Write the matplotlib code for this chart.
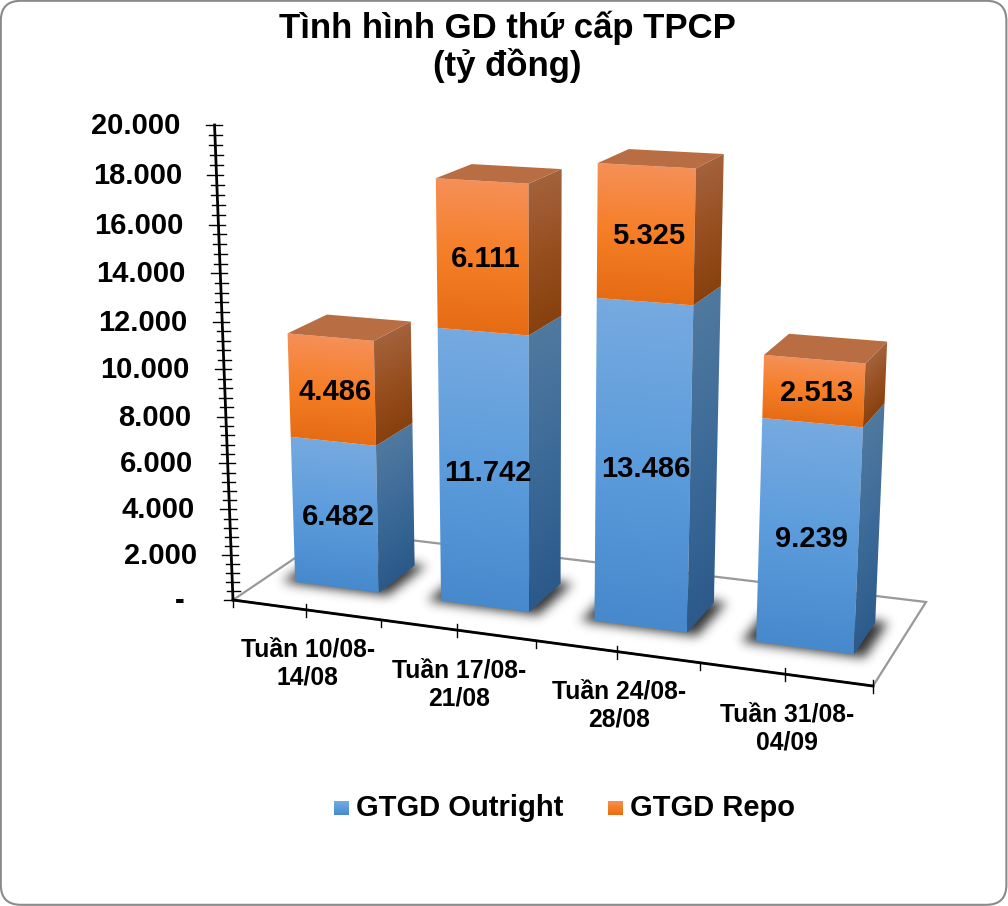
import matplotlib
matplotlib.use("Agg")
import matplotlib.pyplot as plt
import numpy as np
from matplotlib.patches import FancyBboxPatch, Polygon
from matplotlib.path import Path

categories = ["Tuần 10/08-\n14/08", "Tuần 17/08-\n21/08", "Tuần 24/08-\n28/08", "Tuần 31/08-\n04/09"]
outright = [6.482, 11.742, 13.486, 9.239]
repo = [4.486, 6.111, 5.325, 2.513]
outright_labels = ["6.482", "11.742", "13.486", "9.239"]
repo_labels = ["4.486", "6.111", "5.325", "2.513"]
y_ticks = [0, 2, 4, 6, 8, 10, 12, 14, 16, 18, 20]
y_tick_labels = ["-", "2.000", "4.000", "6.000", "8.000", "10.000", "12.000", "14.000", "16.000", "18.000", "20.000"]

FONT = "Liberation Sans"
BLUE_FRONT = ["#76aae0", "#5c9cdc", "#4689cc"]
BLUE_SIDE = ["#50799f", "#3c6a98", "#2b5a8a"]
ORANGE_FRONT = ["#f69058", "#f57e26", "#e66c14"]
ORANGE_SIDE = ["#a3623c", "#984f20", "#87400e"]
TOP_COLOR = "#b86d43"

# camera: floor corners in pixels, then vanishing point of the vertical edges
floor = [(233, 600), (873, 686), (926, 602), (335, 531)]
vanish = (540, 8500)
axis_top = 125.0
n_cat = 4


def make_camera():
    (x0, y0), (x1, y1), (x2, y2), (x3, y3) = floor
    dx1, dx2, sx = x1 - x2, x3 - x2, x0 - x1 + x2 - x3
    dy1, dy2, sy = y1 - y2, y3 - y2, y0 - y1 + y2 - y3
    det = dx1 * dy2 - dx2 * dy1
    g = (sx * dy2 - dx2 * sy) / det
    h = (dx1 * sy - sx * dy1) / det
    c = (y0 - axis_top) / (20 * (axis_top - vanish[1]))
    return np.array([
        [(x1 - x0 + g * x1) / n_cat, c * vanish[0], x3 - x0 + h * x3, x0],
        [(y1 - y0 + g * y1) / n_cat, c * vanish[1], y3 - y0 + h * y3, y0],
        [g / n_cat, c, h, 1.0],
    ])


CAM = make_camera()


def project(x, y, z):
    p = CAM @ np.array([x, y, z, 1.0])
    return p[0] / p[2], p[1] / p[2]


def ramp(stops, t):
    rgb = np.array([matplotlib.colors.to_rgb(s) for s in stops])
    pos = np.linspace(0, 1, len(stops))
    return np.dstack([np.interp(t, pos, rgb[:, k]) for k in range(3)])


def gradient_face(ax, quad, stops, zorder):
    # quad = top-left, top-right, bottom-right, bottom-left
    q = np.array(quad)
    x0, x1 = int(q[:, 0].min()) - 1, int(q[:, 0].max()) + 2
    y0, y1 = int(q[:, 1].min()) - 1, int(q[:, 1].max()) + 2
    xx, yy = np.meshgrid(np.arange(x0, x1) + 0.5, np.arange(y0, y1) + 0.5)
    f = (xx - q[0, 0]) / max(q[1, 0] - q[0, 0], 1e-6)
    top = q[0, 1] + f * (q[1, 1] - q[0, 1])
    bot = q[3, 1] + f * (q[2, 1] - q[3, 1])
    t = np.clip((yy - top) / (bot - top), 0, 1)
    im = ax.imshow(ramp(stops, t), extent=(x0, x1, y1, y0), origin="upper",
                   aspect="auto", interpolation="bilinear", zorder=zorder)
    im.set_clip_path(Polygon(q, closed=True, transform=ax.transData))


def blur(a, sigma):
    r = int(3 * sigma)
    k = np.exp(-0.5 * (np.arange(-r, r + 1) / sigma) ** 2)
    k /= k.sum()
    a = np.apply_along_axis(lambda v: np.convolve(v, k, mode="same"), 0, a)
    return np.apply_along_axis(lambda v: np.convolve(v, k, mode="same"), 1, a)


def shadow(ax, xl, xr, zf, zb):
    poly = np.array([project(xl, 0, zf), project(xr, 0, zf), project(xr, 0, zb), project(xl, 0, zb)])
    x0, x1 = int(poly[:, 0].min()) - 25, int(poly[:, 0].max()) + 25
    y0, y1 = int(poly[:, 1].min()) - 25, int(poly[:, 1].max()) + 25
    xx, yy = np.meshgrid(np.arange(x0, x1) + 0.5, np.arange(y0, y1) + 0.5)
    mask = Path(poly).contains_points(np.c_[xx.ravel(), yy.ravel()]).reshape(xx.shape).astype(float)
    rgba = np.zeros(mask.shape + (4,))
    rgba[..., 3] = 0.8 * blur(mask, 5.5)
    ax.imshow(rgba, extent=(x0, x1, y1, y0), origin="upper", aspect="auto", zorder=2)


fig = plt.figure(figsize=(10.08, 9.06), dpi=100)
ax = fig.add_axes([0, 0, 1, 1])
ax.axis("off")

ax.add_patch(FancyBboxPatch((0.8, 0.8), 1005.6, 904, boxstyle="round,pad=0,rounding_size=20",
                            fc="white", ec="#8a8a8a", lw=1.5, zorder=0))

# floor
fx = [0, n_cat, n_cat, 0, 0]
fz = [0, 0, 1, 1, 0]
fp = np.array([project(a, 0, b) for a, b in zip(fx, fz)])
ax.plot(fp[:, 0], fp[:, 1], color="#999999", lw=1.6, zorder=1, solid_joinstyle="miter")

# bars
half_w = 0.29
z_front, z_back = 0.30, 0.68
for i in range(n_cat):
    xl, xr = i + 0.5 - half_w, i + 0.5 + half_w
    shadow(ax, xl - 0.08, xr + 0.07, z_front - 0.02, z_back + 0.02)
    segs = [(0, outright[i], BLUE_FRONT, BLUE_SIDE), (outright[i], outright[i] + repo[i], ORANGE_FRONT, ORANGE_SIDE)]
    for lo, hi, front, side in segs:
        gradient_face(ax, [project(xl, hi, z_front), project(xr, hi, z_front),
                           project(xr, lo, z_front), project(xl, lo, z_front)], front, 3)
        gradient_face(ax, [project(xr, hi, z_front), project(xr, hi, z_back),
                           project(xr, lo, z_back), project(xr, lo, z_front)], side, 3)
    hi = outright[i] + repo[i]
    ax.add_patch(Polygon([project(xl, hi, z_front), project(xr, hi, z_front),
                          project(xr, hi, z_back), project(xl, hi, z_back)],
                         closed=True, fc=TOP_COLOR, ec="none", zorder=3))
    for val, base, lab in [(outright[i], 0, outright_labels[i]), (repo[i], outright[i], repo_labels[i])]:
        px, py = project(i + 0.5, base + val / 2, z_front)
        ax.text(px + 3.5, py + 2, lab, family=FONT, weight="bold", fontsize=21, color="black",
                ha="center", va="center", zorder=5)

# value axis
ax0, ay0 = project(0, 0, 0)
ax1, ay1 = project(0, 20, 0)
ax.plot([ax0, ax1], [ay0, ay1], color="black", lw=2, zorder=4)
for k in range(51):
    v = k * 0.4
    px, py = project(0, v, 0)
    left = 9 if k % 5 == 0 else 6
    ax.plot([px - left, px + 7], [py, py], color="black", lw=1.0, zorder=4)
for v, lab in zip(y_ticks, y_tick_labels):
    px, py = project(0, v, 0)
    off = 48 if v == 0 else 34.5
    ax.text(px - off, py + 1, lab, family=FONT, weight="bold", fontsize=21, color="black",
            ha="right", va="center", zorder=5)

# category axis
cx = np.array([project(0, 0, 0), project(n_cat, 0, 0)])
ax.plot(cx[:, 0], cx[:, 1], color="black", lw=2, zorder=4)
for k in range(2 * n_cat + 1):
    px, py = project(k / 2, 0, 0)
    up = 6 if (k % 2 == 1 or k == 2 * n_cat) else 0
    ax.plot([px, px], [py - up, py + 7], color="black", lw=1.0, zorder=4)
for i, lab in enumerate(categories):
    px, py = project(i + 0.5, 0, 0)
    ax.text(px + 2, py + 54, lab, family=FONT, weight="bold", fontsize=17.8, color="black",
            ha="center", va="center", linespacing=1.22, zorder=5)

# title
ax.text(507, 47, "Tình hình GD thứ cấp TPCP\n(tỷ đồng)", family=FONT, weight="bold", fontsize=25,
        color="black", ha="center", va="center", linespacing=1.12, zorder=5)

# legend
for x, name, stops in [(334, "GTGD Outright", BLUE_FRONT), (608, "GTGD Repo", ORANGE_FRONT)]:
    gradient_face(ax, [(x, 801), (x + 15, 801), (x + 15, 815), (x, 815)], stops, 3)
    ax.text(x + 22, 807.5, name, family=FONT, weight="bold", fontsize=21, color="black",
            ha="left", va="center", zorder=5)

ax.set_xlim(0, 1008)
ax.set_ylim(906, 0)
fig.savefig("out.png", dpi=100, facecolor="white")
